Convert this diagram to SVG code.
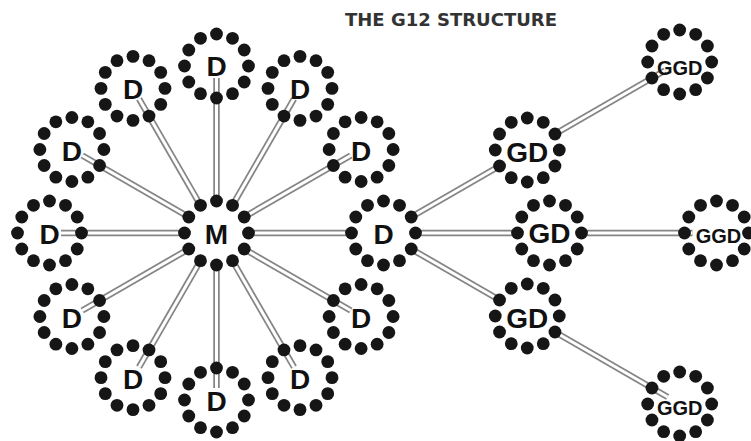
<svg xmlns="http://www.w3.org/2000/svg" xmlns:xlink="http://www.w3.org/1999/xlink" width="751" height="441" viewBox="0 0 751 441">
  <style>
    .title { font-family: "DejaVu Sans", Verdana, sans-serif; font-weight: bold; font-size: 18px; fill: #333333; }
    .dot { fill: #161616; }
    .lbl { font-family: "Liberation Sans", Arial, sans-serif; font-weight: bold; font-size: 28px; fill: #111; text-anchor: middle; }
    .lbl-s { font-family: "Liberation Sans", Arial, sans-serif; font-weight: bold; font-size: 20px; fill: #111; text-anchor: middle; }
    .pipe-edge { stroke: #858585; stroke-width: 6.5; fill: none; }
    .pipe-core { stroke: #ffffff; stroke-width: 3; fill: none; }
  </style>
  <defs>
    <!-- ring of twelve beads used by every node -->
    <g id="ring" class="dot">
      <circle cx="32" cy="0" r="6.4"/>
      <circle cx="27.71" cy="16" r="6.4"/>
      <circle cx="16" cy="27.71" r="6.4"/>
      <circle cx="0" cy="32" r="6.4"/>
      <circle cx="-16" cy="27.71" r="6.4"/>
      <circle cx="-27.71" cy="16" r="6.4"/>
      <circle cx="-32" cy="0" r="6.4"/>
      <circle cx="-27.71" cy="-16" r="6.4"/>
      <circle cx="-16" cy="-27.71" r="6.4"/>
      <circle cx="0" cy="-32" r="6.4"/>
      <circle cx="16" cy="-27.71" r="6.4"/>
      <circle cx="27.71" cy="-16" r="6.4"/>
    </g>
    <!-- connector centre-lines; drawn twice (grey edge, white core) to form a pipe -->
    <g id="pipe-paths">
      <line id="m-d0" x1="248.5" y1="233" x2="351.5" y2="233"/>
      <line id="m-d30" x1="244.21" y1="249" x2="350.74" y2="310.5"/>
      <line id="m-d60" x1="232.5" y1="260.71" x2="294" y2="367.24"/>
      <line id="m-d90" x1="216.5" y1="265" x2="216.5" y2="388"/>
      <line id="m-d120" x1="200.5" y1="260.71" x2="139" y2="367.24"/>
      <line id="m-d150" x1="188.79" y1="249" x2="82.26" y2="310.5"/>
      <line id="m-d180" x1="184.5" y1="233" x2="61" y2="233"/>
      <line id="m-d210" x1="188.79" y1="217" x2="82.26" y2="155.5"/>
      <line id="m-d240" x1="200.5" y1="205.29" x2="139" y2="98.76"/>
      <line id="m-d270" x1="216.5" y1="201" x2="216.5" y2="78"/>
      <line id="m-d300" x1="232.5" y1="205.29" x2="294" y2="98.76"/>
      <line id="m-d330" x1="244.21" y1="217" x2="350.74" y2="155.5"/>
      <line id="d-gd1" x1="411.21" y1="217" x2="499.55" y2="166"/>
      <line id="d-gd2" x1="415.5" y1="233" x2="517.5" y2="233"/>
      <line id="d-gd3" x1="411.21" y1="249" x2="499.55" y2="300"/>
      <line id="gd1-ggd1" x1="554.97" y1="134" x2="665" y2="70.5"/>
      <line id="gd2-ggd2" x1="581.5" y1="233" x2="692.5" y2="233"/>
      <line id="gd3-ggd3" x1="554.97" y1="332" x2="667.6" y2="397"/>
    </g>
  </defs>

  <rect width="751" height="441" fill="#ffffff"/>

  <text class="title" x="451" y="25.5" text-anchor="middle">THE G12 STRUCTURE</text>

  <g id="connectors">
    <use href="#pipe-paths" class="pipe-edge"/>
    <use href="#pipe-paths" class="pipe-core"/>
  </g>

  <g id="node-m" transform="translate(216.5,233)">
    <use href="#ring"/><text class="lbl" y="11">M</text>
  </g>

  <g id="node-d0" transform="translate(383.5,233)">
    <use href="#ring"/><text class="lbl" y="11">D</text>
  </g>
  <g id="node-d30" transform="translate(361.13,316.5)">
    <use href="#ring"/><text class="lbl" y="11">D</text>
  </g>
  <g id="node-d60" transform="translate(300,377.63)">
    <use href="#ring"/><text class="lbl" y="11">D</text>
  </g>
  <g id="node-d90" transform="translate(216.5,400)">
    <use href="#ring"/><text class="lbl" y="11">D</text>
  </g>
  <g id="node-d120" transform="translate(133,377.63)">
    <use href="#ring"/><text class="lbl" y="11">D</text>
  </g>
  <g id="node-d150" transform="translate(71.87,316.5)">
    <use href="#ring"/><text class="lbl" y="11">D</text>
  </g>
  <g id="node-d180" transform="translate(49.5,233)">
    <use href="#ring"/><text class="lbl" y="11">D</text>
  </g>
  <g id="node-d210" transform="translate(71.87,149.5)">
    <use href="#ring"/><text class="lbl" y="11">D</text>
  </g>
  <g id="node-d240" transform="translate(133,88.37)">
    <use href="#ring"/><text class="lbl" y="11">D</text>
  </g>
  <g id="node-d270" transform="translate(216.5,66)">
    <use href="#ring"/><text class="lbl" y="10">D</text>
  </g>
  <g id="node-d300" transform="translate(300,88.37)">
    <use href="#ring"/><text class="lbl" y="11">D</text>
  </g>
  <g id="node-d330" transform="translate(361.13,149.5)">
    <use href="#ring"/><text class="lbl" y="11">D</text>
  </g>

  <g id="node-gd1" transform="translate(527.26,150)">
    <use href="#ring"/><text class="lbl" y="12">GD</text>
  </g>
  <g id="node-gd2" transform="translate(549.5,233)">
    <use href="#ring"/><text class="lbl" y="10">GD</text>
  </g>
  <g id="node-gd3" transform="translate(527.26,316)">
    <use href="#ring"/><text class="lbl" y="12">GD</text>
  </g>

  <g id="node-ggd1" transform="translate(679.68,62)">
    <use href="#ring"/><text class="lbl-s" y="13">GGD</text>
  </g>
  <g id="node-ggd2" transform="translate(716.5,233)">
    <use href="#ring"/><text class="lbl-s" x="2" y="10">GGD</text>
  </g>
  <g id="node-ggd3" transform="translate(679.68,404)">
    <use href="#ring"/><text class="lbl-s" y="11">GGD</text>
  </g>
</svg>
